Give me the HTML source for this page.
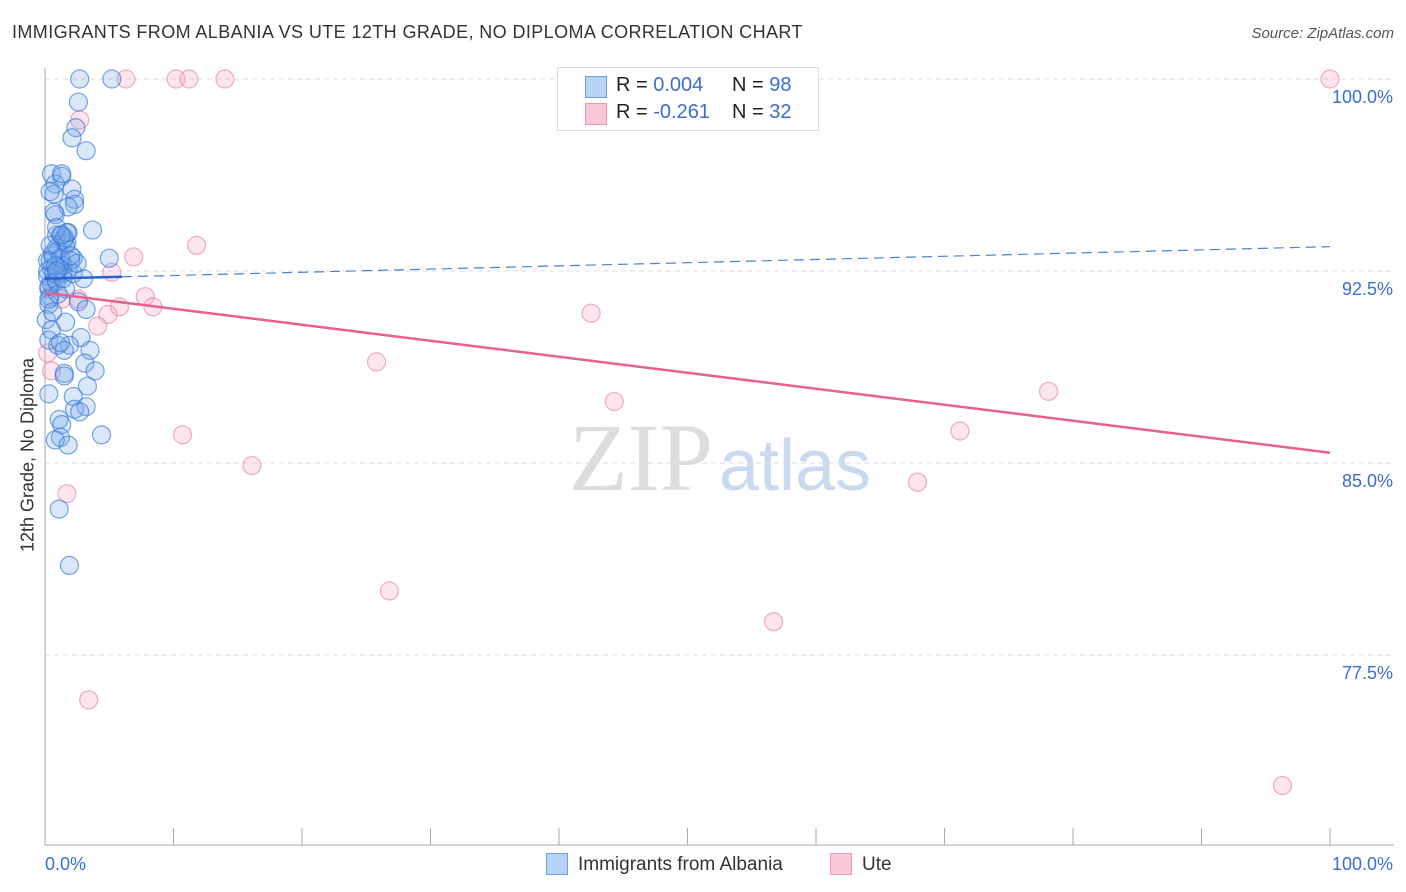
<!DOCTYPE html>
<html><head><meta charset="utf-8">
<style>
body{margin:0;background:#fff;font-family:"Liberation Sans",sans-serif;}
#wrap{position:relative;width:1406px;height:892px;overflow:hidden;}
.t{position:absolute;white-space:nowrap;}
</style></head>
<body>
<div id="wrap">
<div class="t" style="left:12px;top:22px;font-size:18px;letter-spacing:0.4px;color:#333;">IMMIGRANTS FROM ALBANIA VS UTE 12TH GRADE, NO DIPLOMA CORRELATION CHART</div>
<div class="t" style="right:12px;top:25px;font-size:15px;color:#555;font-style:italic;">Source: ZipAtlas.com</div>
<svg id="svg" width="1406" height="892" style="position:absolute;left:0;top:0">
<text x="720" y="490" text-anchor="middle" font-family="Liberation Serif" font-size="96" fill="#ddd"><tspan>ZIP</tspan><tspan font-family="Liberation Sans" fill="#c9d9f0" font-size="72" dx="6">atlas</tspan></text>
</svg>
<div class="t" style="left:28px;top:455px;font-size:18px;color:#333;transform:translate(-50%,-50%) rotate(-90deg);">12th Grade, No Diploma</div>
<div style="position:absolute;left:557px;top:67px;width:260px;height:62px;border:1px solid #ddd;background:#fff;font-size:20px;color:#222;">
 <div style="position:absolute;left:27px;top:8px;width:20px;height:20px;background:#b9d3f5;border:1px solid #6fa0e6;"></div>
 <div class="t" style="left:58px;top:6px;">R = <span style="color:#3a6fd1">0.004</span></div>
 <div class="t" style="left:174px;top:6px;">N = <span style="color:#3a6fd1">98</span></div>
 <div style="position:absolute;left:27px;top:35px;width:20px;height:20px;background:#f9c8d6;border:1px solid #ee9ab2;"></div>
 <div class="t" style="left:58px;top:33px;">R = <span style="color:#3a6fd1">-0.261</span></div>
 <div class="t" style="left:174px;top:33px;">N = <span style="color:#3a6fd1">32</span></div>
</div>
<div style="position:absolute;left:546px;top:853px;font-size:19px;color:#333;">
 <div style="position:absolute;left:0;top:0;width:20px;height:20px;background:#b9d3f5;border:1px solid #6fa0e6;"></div>
 <div class="t" style="left:32px;top:1px;">Immigrants from Albania</div>
 <div style="position:absolute;left:284px;top:0;width:20px;height:20px;background:#f9c8d6;border:1px solid #ee9ab2;"></div>
 <div class="t" style="left:316px;top:1px;">Ute</div>
</div>
</div>
<script>
const yTicks=[100,92.5,85,77.5];
const yTickLabels=["100.0%","92.5%","85.0%","77.5%"];
const xTickLabels=["0.0%","100.0%"];
const blueX=[2.7,5.2,2.6,2.4,2.1,3.2,0.5,1.3,0.8,2.1,0.7,2.3,2.3,1.8,0.8,0.7,3.7,1.8,1.2,0.9,1.5,1.6,0.9,5.0,2.2,0.4,1.2,0.5,1.8,0.2,1.0,1.4,2.2,3.0,0.8,0.3,1.6,0.4,0.3,2.6,3.2,1.6,0.1,2.8,0.3,1.0,1.9,3.5,1.5,3.1,1.5,3.9,1.5,0.3,3.3,2.2,2.3,3.2,2.7,1.1,1.3,4.4,1.2,0.8,1.8,1.1,1.9,0.6,1.0,1.4,0.2,0.5,1.7,0.9,1.3,0.4,2.0,1.1,0.6,0.3,1.5,0.7,1.2,0.9,0.4,2.5,1.0,0.6,1.4,0.2,0.8,1.7,0.5,1.2,0.3,0.9,2.0,1.3];
const blueY=[100,100,99.1,98.1,97.7,97.2,96.3,96.2,95.9,95.7,95.5,95.3,95.1,95.0,94.7,94.8,94.1,94.0,93.9,93.9,93.7,93.5,93.4,93.0,93.0,92.9,92.8,92.6,92.6,92.5,92.5,92.4,92.4,92.2,92.2,91.8,91.8,91.5,91.2,91.3,91.0,90.5,90.6,89.9,89.8,89.6,89.6,89.4,89.4,88.9,88.5,88.6,88.4,87.7,88.0,87.6,87.1,87.2,87.0,86.7,86.5,86.1,86.0,85.9,85.7,83.2,81.0,93.1,93.3,92.7,92.3,92.0,93.6,94.2,96.3,95.6,92.9,92.6,93.2,91.9,93.8,92.4,93.0,92.1,93.5,92.8,91.6,90.9,92.2,92.9,92.7,94.0,90.2,89.7,91.4,92.5,93.1,93.9];
const pinkX=[6.3,10.2,11.2,14.0,52.4,100,2.7,11.8,6.9,5.2,7.8,1.3,2.6,5.8,8.4,4.9,4.1,42.5,0.2,25.8,0.5,44.3,78.1,10.7,71.2,16.1,67.9,1.7,26.8,56.7,3.4,96.3];
const pinkY=[100,100,100,100,100,100,98.4,93.5,93.05,92.45,91.5,91.4,91.4,91.1,91.1,90.8,90.35,90.85,89.3,88.95,88.6,87.4,87.8,86.1,86.25,84.9,84.25,83.8,80.0,78.8,75.75,72.4];
const blueTrend=[92.2,93.45];
const pinkTrend=[91.65,85.4];
const X0=45,X1=1330,Y100=79,PPU=25.6;
const sx=v=>X0+(X1-X0)*v/100;
const sy=v=>Y100+(100-v)*PPU;
const svg=document.getElementById('svg');
const NS='http://www.w3.org/2000/svg';
function mk(tag,attrs){const e=document.createElementNS(NS,tag);for(const k in attrs)e.setAttribute(k,attrs[k]);svg.appendChild(e);return e;}
yTicks.forEach((t,i)=>{
 const g=mk('line',{x1:X0,x2:1394,y1:sy(t),y2:sy(t),stroke:'#ddd','stroke-dasharray':'5,4'});
 
 
 const tx=mk('text',{x:1393,y:sy(t)+24,'text-anchor':'end','font-size':18,fill:'#3a6fd1','font-family':'Liberation Sans'});
 tx.textContent=yTickLabels[i];
 
 
});
let ax=mk('line',{x1:X0,x2:X0,y1:68,y2:845,stroke:'#aaa'});


ax=mk('line',{x1:X0,x2:1394,y1:845,y2:845,stroke:'#aaa'});


for(let i=0;i<=10;i++){const tk=mk('line',{x1:sx(i*10),x2:sx(i*10),y1:828,y2:845,stroke:'#aaa'});
 
 }
[[0,'start',45],[1,'end',1393]].forEach(([i,a,x])=>{const t=mk('text',{x:x,y:870,'text-anchor':a,'font-size':18,fill:'#3a6fd1','font-family':'Liberation Sans'});t.textContent=xTickLabels[i];
 
 });
pinkX.forEach((x,i)=>{const c=mk('circle',{cx:sx(x),cy:sy(pinkY[i]),r:9,fill:'rgba(246,170,195,0.3)',stroke:'rgba(232,120,155,0.6)','stroke-width':1.2});
 
 });
blueX.forEach((x,i)=>{const c=mk('circle',{cx:sx(x),cy:sy(blueY[i]),r:9,fill:'rgba(120,170,235,0.28)',stroke:'rgba(50,115,215,0.65)','stroke-width':1.2});
 
 });
const bAt=v=>blueTrend[0]+(blueTrend[1]-blueTrend[0])*v/100;
let l=mk('line',{x1:sx(6),y1:sy(bAt(6)),x2:sx(100),y2:sy(bAt(100)),stroke:'#4a80d8','stroke-width':1.2,'stroke-dasharray':'10,6'});


l=mk('line',{x1:sx(0),y1:sy(bAt(0)),x2:sx(6),y2:sy(bAt(6)),stroke:'#2a63cf','stroke-width':2.5});


l=mk('line',{x1:sx(0),y1:sy(pinkTrend[0]),x2:sx(100),y2:sy(pinkTrend[1]),stroke:'#e8608c','stroke-width':2.5});


</script>
</body></html>
